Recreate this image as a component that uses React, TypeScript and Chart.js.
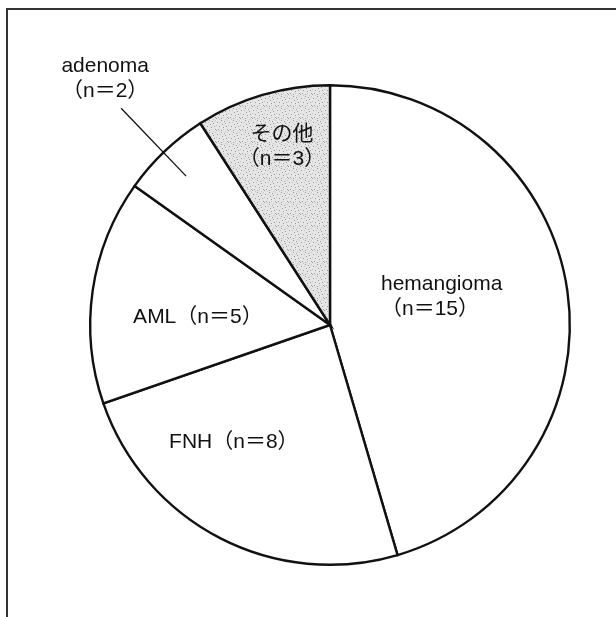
import React, { useEffect, useRef } from "react";
import { Chart, registerables } from "chart.js";

Chart.register(...registerables);

const categories = ["hemangioma", "FNH", "AML", "adenoma", "その他"];
const counts = [15, 8, 5, 2, 3];
const labelLines = [
  ["hemangioma", "（n＝15）"],
  ["FNH（n＝8）"],
  ["AML（n＝5）"],
  ["adenoma", "（n＝2）"],
  ["その他", "（n＝3）"],
];
// label anchors relative to pie centre, in units of radius
const labelAnchors = [
  { dx: 0.2125, dy: -0.146, align: "left" },
  { dx: -0.671, dy: 0.5125, align: "left" },
  { dx: -0.821, dy: -0.008, align: "left" },
  { dx: -0.9375, dy: -1.054, align: "center" },
  { dx: -0.2, dy: -0.771, align: "center" },
];
const leader = { x1: -0.871, y1: -0.904, x2: -0.6, y2: -0.621 };

const FONT = "21px 'Liberation Sans', Arial, 'Noto Sans CJK JP', sans-serif";

function makePattern(): CanvasPattern | string {
  const c = document.createElement("canvas");
  c.width = 12;
  c.height = 12;
  const g = c.getContext("2d");
  if (!g) return "#ddd";
  g.fillStyle = "#e6e6e6";
  g.fillRect(0, 0, 12, 12);
  const dots = [
    [1, 2], [5, 0], [9, 3], [3, 6], [7, 7], [11, 9], [0, 10], [5, 10], [8, 1], [2, 9], [10, 6], [6, 4],
  ];
  g.fillStyle = "#9a9a9a";
  dots.forEach(([x, y]) => g.fillRect(x, y, 1, 1));
  g.fillStyle = "#c4c4c4";
  [[4, 2], [0, 5], [9, 11], [7, 9], [11, 0], [3, 11]].forEach(([x, y]) => g.fillRect(x, y, 1, 1));
  const p = g.createPattern(c, "repeat");
  return p || "#ddd";
}

const labelPlugin = {
  id: "labelsAndFrame",
  beforeDraw(chart: any) {
    const ctx = chart.ctx;
    ctx.save();
    ctx.fillStyle = "#fff";
    ctx.fillRect(0, 0, chart.width, chart.height);
    ctx.strokeStyle = "#333";
    ctx.lineWidth = 2;
    ctx.beginPath();
    ctx.moveTo(7, chart.height);
    ctx.lineTo(7, 9);
    ctx.lineTo(chart.width, 9);
    ctx.stroke();
    ctx.restore();
  },
  afterDraw(chart: any) {
    const ctx = chart.ctx;
    const arcs = chart.getDatasetMeta(0).data;
    if (!arcs.length) return;
    const cx = arcs[0].x;
    const cy = arcs[0].y;
    const r = arcs[0].outerRadius;
    ctx.save();
    ctx.fillStyle = "#111";
    ctx.font = FONT;
    ctx.textBaseline = "alphabetic";
    labelLines.forEach((lines, i) => {
      const a = labelAnchors[i];
      ctx.textAlign = a.align;
      lines.forEach((t, j) => {
        ctx.fillText(t, cx + a.dx * r, cy + a.dy * r + j * 25);
      });
    });
    ctx.strokeStyle = "#111";
    ctx.lineWidth = 1.3;
    ctx.beginPath();
    ctx.moveTo(cx + leader.x1 * r, cy + leader.y1 * r);
    ctx.lineTo(cx + leader.x2 * r, cy + leader.y2 * r);
    ctx.stroke();
    ctx.restore();
  },
};

export default function App() {
  const ref = useRef<HTMLCanvasElement>(null);
  useEffect(() => {
    if (!ref.current) return;
    const pattern = makePattern();
    const chart = new Chart(ref.current, {
      type: "pie",
      data: {
        labels: categories,
        datasets: [
          {
            data: counts,
            backgroundColor: ["#fff", "#fff", "#fff", "#fff", pattern as any],
            borderColor: "#111",
            borderWidth: 2.4,
            borderJoinStyle: "miter",
          } as any,
        ],
      },
      options: {
        responsive: false,
        animation: false,
        layout: { padding: { left: 89, right: 45, top: 84, bottom: 51 } },
        plugins: {
          legend: { display: false },
          tooltip: { enabled: false },
        },
      },
      plugins: [labelPlugin],
    });
    return () => chart.destroy();
  }, []);
  return (
    <div style={{ position: "fixed", left: 0, top: 0, width: 616, height: 617, background: "#fff" }}>
      <canvas ref={ref} width={616} height={617} style={{ display: "block" }} />
    </div>
  );
}
